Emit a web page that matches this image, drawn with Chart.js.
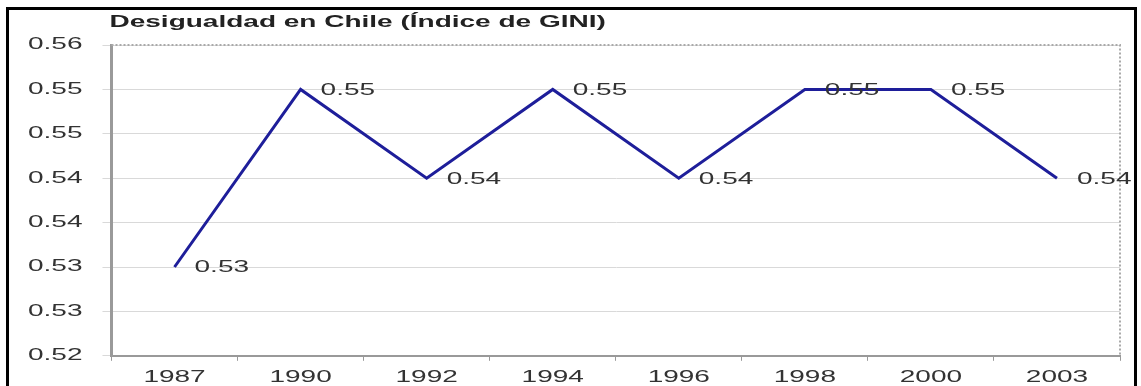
<!DOCTYPE html>
<html lang="es">
<head>
    <meta charset="UTF-8">
    <title>Desigualdad en Chile</title>
    <script src="https://cdn.jsdelivr.net/npm/chart.js"></script>
    <style>
        html, body {
            margin: 0;
            padding: 0;
            background: #fff;
        }

        #wrap {
            position: relative;
            width: 1141px;
            height: 386px;
            overflow: hidden;
        }

        #wrap canvas {
            position: absolute;
            left: 0;
            top: 0;
        }

        .frame {
            position: absolute;
            left: 6px;
            top: 7px;
            width: 1125px;
            height: 400px;
            border: 3px solid #000;
            border-bottom: none;
            pointer-events: none;
        }
    </style>
</head>
<body>
<div id="wrap">
    <canvas id="giniChart" width="1141" height="386"></canvas>
    <div class="frame"></div>
</div>

<script>
    // Data
    const chartTitle = 'Desigualdad en Chile (Índice de GINI)';
    const years = ['1987', '1990', '1992', '1994', '1996', '1998', '2000', '2003'];
    const gini = [0.53, 0.55, 0.54, 0.55, 0.54, 0.55, 0.55, 0.54];
    const yTicks = [0.52, 0.525, 0.53, 0.535, 0.54, 0.545, 0.55, 0.555];

    const FONT = '"Liberation Sans", Arial, sans-serif';
    const TEXT = '#333';
    const STRETCH = 1.75; // wide lettering

    // two decimals, halves rounded up (0.525 -> 0.53)
    const fmt = v => (Math.round(v * 100 + 1e-6) / 100).toFixed(2);

    // draw and measure all canvas text stretched horizontally
    function widenText(ctx) {
        const fillText = ctx.fillText;
        const measureText = ctx.measureText;
        ctx.fillText = function (text, x, y) {
            this.save();
            this.translate(x, y);
            this.scale(STRETCH, 1);
            fillText.call(this, text, 0, 0);
            this.restore();
        };
        ctx.measureText = function (text) {
            const m = measureText.call(this, text);
            return {
                width: m.width * STRETCH,
                actualBoundingBoxAscent: m.actualBoundingBoxAscent,
                actualBoundingBoxDescent: m.actualBoundingBoxDescent
            };
        };
    }

    // dotted top/right edge of the plot area
    const plotEdge = {
        id: 'plotEdge',
        beforeDatasetsDraw(chart) {
            const {ctx, chartArea: a} = chart;
            ctx.save();
            ctx.strokeStyle = '#aaa';
            ctx.lineWidth = 2;
            ctx.setLineDash([2, 2]);
            ctx.beginPath();
            ctx.moveTo(a.left, a.top);
            ctx.lineTo(a.right, a.top);
            ctx.lineTo(a.right, a.bottom);
            ctx.stroke();
            ctx.restore();
        }
    };

    // value labels next to each point, plus the title
    const valueLabels = {
        id: 'valueLabels',
        afterDatasetsDraw(chart) {
            const {ctx, chartArea} = chart;
            const meta = chart.getDatasetMeta(0);
            ctx.save();
            ctx.font = '16px ' + FONT;
            ctx.fillStyle = TEXT;
            ctx.textAlign = 'left';
            ctx.textBaseline = 'middle';
            meta.data.forEach((pt, i) => {
                ctx.fillText(fmt(gini[i]), pt.x + 20, pt.y + 1);
            });

            ctx.font = 'bold 16px ' + FONT;
            ctx.fillStyle = '#222';
            ctx.fillText(chartTitle, chartArea.left - 2, 23);
            ctx.restore();
        }
    };

    const ctx = document.getElementById('giniChart').getContext('2d');
    widenText(ctx);

    new Chart(ctx, {
        type: 'line',
        data: {
            labels: years,
            datasets: [{
                data: gini,
                borderColor: '#1e1e9a',
                borderWidth: 3,
                pointRadius: 0,
                tension: 0,
                fill: false
            }]
        },
        options: {
            responsive: false,
            animation: false,
            layout: {
                padding: {top: 45, right: 21, bottom: -8, left: 8}
            },
            plugins: {
                legend: {display: false},
                tooltip: {enabled: false},
                title: {display: false}
            },
            scales: {
                x: {
                    offset: true,
                    grid: {
                        offset: true,
                        drawOnChartArea: false,
                        tickLength: 5,
                        color: '#999'
                    },
                    border: {color: '#999', width: 2},
                    ticks: {
                        font: {family: FONT, size: 16},
                        color: TEXT,
                        padding: 7,
                        maxRotation: 0
                    }
                },
                y: {
                    min: yTicks[0],
                    max: yTicks[yTicks.length - 1],
                    afterBuildTicks(axis) {
                        axis.ticks = yTicks.map(v => ({value: v}));
                    },
                    grid: {
                        color: '#d9d9d9',
                        tickLength: 9
                    },
                    border: {color: '#9a9a9a', width: 3},
                    ticks: {
                        font: {family: FONT, size: 16},
                        color: TEXT,
                        padding: 20,
                        callback: v => fmt(v)
                    }
                }
            }
        },
        plugins: [plotEdge, valueLabels]
    });
</script>
</body>
</html>
